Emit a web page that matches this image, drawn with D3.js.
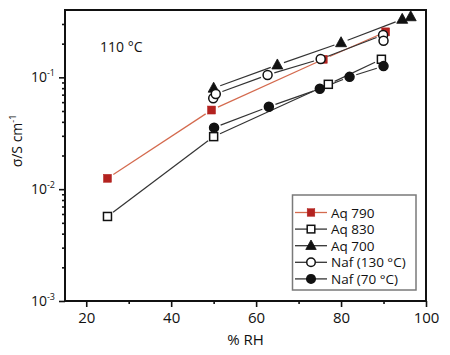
<!DOCTYPE html>
<html><head><meta charset="utf-8">
<script src="https://cdn.jsdelivr.net/npm/d3@7"></script>
<style>body{margin:0;background:#fff}svg{display:block}text{font-family:"Open Sans",sans-serif;fill:#111}</style>
</head><body><svg id="c" width="450" height="355"></svg>
<script>
const seriesNames = ["Aq 790","Aq 830","Aq 700","Naf (130 °C)","Naf (70 °C)"];
const aq790X = [25, 49.5, 75.8, 90.5];
const aq790Y = [0.0125, 0.051, 0.145, 0.255];
const aq830X = [25, 50, 77, 89.5];
const aq830Y = [0.0057, 0.0295, 0.0866, 0.145];
const aq700X = [50, 65, 80, 94.4, 96.4];
const aq700Y = [0.08, 0.129, 0.204, 0.33, 0.348];
const naf130X = [49.9, 50.5, 62.7, 75.2, 89.9, 90];
const naf130Y = [0.065, 0.071, 0.105, 0.146, 0.239, 0.212];
const naf70X = [50.1, 63, 75, 82, 90];
const naf70Y = [0.0355, 0.0546, 0.079, 0.101, 0.126];
const xTicks = [20, 40, 60, 80, 100];
const xMinor = [30, 50, 70, 90];
const yTickExp = ["-3", "-2", "-1"];
const annotation = "110 °C";
const xTitle = "% RH";

const svg = d3.select("#c");
const x = d3.scaleLinear([15, 100], [65, 426]);
const y = d3.scaleLog([0.001, 0.4], [301, 10]);

const styles = [
  {shape:"square", fill:"#b3221f", stroke:"#b3221f", line:"#d46a4e"},
  {shape:"square", fill:"#fff", stroke:"#111", line:"#333"},
  {shape:"triangle", fill:"#111", stroke:"#111", line:"#333"},
  {shape:"circle", fill:"#fff", stroke:"#111", line:"#333"},
  {shape:"circle", fill:"#111", stroke:"#111", line:"#333"}
];
const data = [[aq790X,aq790Y],[aq830X,aq830Y],[aq700X,aq700Y],[naf130X,naf130Y],[naf70X,naf70Y]];

// frame
svg.append("rect").attr("x",65).attr("y",10).attr("width",361).attr("height",291)
  .attr("fill","none").attr("stroke","#111").attr("stroke-width",2);

// x axis
const gx = svg.append("g").attr("transform","translate(0,301)");
gx.call(d3.axisBottom(x).tickValues(xTicks).tickSize(6).tickFormat(d3.format("d")));
gx.append("g").call(d3.axisBottom(x).tickValues(xMinor).tickSize(3).tickFormat(""));
gx.selectAll(".domain").remove();
gx.selectAll("line").attr("stroke","#111").attr("stroke-width",1.6);
gx.selectAll("text").attr("font-size",15).attr("y",8).attr("dy","0.95em").attr("fill","#111");

// y axis
const gy = svg.append("g").attr("transform","translate(65,0)");
const majors = yTickExp.map(e => Math.pow(10, +e));
const minors = [];
[0.001,0.01,0.1].forEach(b => { for (let k=2;k<=9;k++){ const v=b*k; if (v<0.4) minors.push(v);} });
gy.call(d3.axisLeft(y).tickValues(majors).tickSize(6).tickFormat(""));
gy.append("g").call(d3.axisLeft(y).tickValues(minors).tickSize(3).tickFormat(""));
gy.selectAll(".domain").remove();
gy.selectAll("line").attr("stroke","#111").attr("stroke-width",1.6);
yTickExp.forEach((e,i) => {
  const t = svg.append("text").attr("x",55).attr("y",y(majors[i])+5).attr("text-anchor","end").attr("font-size",14);
  t.append("tspan").text("10");
  t.append("tspan").attr("font-size",9).attr("dy",-6).text(e);
});

// axis titles
svg.append("text").attr("x",x(57.5)).attr("y",345).attr("text-anchor","middle").attr("font-size",15).text(xTitle);
const yl = svg.append("text").attr("transform","translate(22,141) rotate(-90)").attr("text-anchor","middle").attr("font-size",14);
yl.append("tspan").text("σ/S cm");
yl.append("tspan").attr("font-size",9).attr("dy",-6).text("-1");

svg.append("text").attr("x",100).attr("y",52).attr("font-size",14).text(annotation);

function drawMarker(g, st, cx, cy, scale=1) {
  if (st.shape==="square") {
    const s = 8*scale;
    g.append("rect").attr("x",cx-s/2).attr("y",cy-s/2).attr("width",s).attr("height",s)
      .attr("fill",st.fill).attr("stroke",st.stroke).attr("stroke-width",st.fill==="#fff"?1.5:0.5);
  } else if (st.shape==="circle") {
    g.append("circle").attr("cx",cx).attr("cy",cy).attr("r",4.5*scale)
      .attr("fill",st.fill).attr("stroke",st.stroke).attr("stroke-width",1.5);
  } else {
    const h = 10*scale, w = 11*scale;
    g.append("path").attr("d",`M${cx},${cy-h*0.6}L${cx+w/2},${cy+h*0.4}L${cx-w/2},${cy+h*0.4}Z`)
      .attr("fill",st.fill).attr("stroke",st.stroke).attr("stroke-width",0.8);
  }
}

// series lines with gaps at markers
const plot = svg.append("g");
data.forEach((d,si) => {
  const st = styles[si];
  const pts = d[0].map((xv,i) => [x(xv), y(d[1][i])]);
  const gap = 7;
  for (let i=0;i<pts.length-1;i++){
    const [x1,y1]=pts[i],[x2,y2]=pts[i+1];
    const L = Math.hypot(x2-x1,y2-y1);
    if (L <= 2*gap) continue;
    const ux=(x2-x1)/L, uy=(y2-y1)/L;
    plot.append("line").attr("x1",x1+ux*gap).attr("y1",y1+uy*gap).attr("x2",x2-ux*gap).attr("y2",y2-uy*gap)
      .attr("stroke",st.line).attr("stroke-width",1.2);
  }
});
data.forEach((d,si) => {
  const g = plot.append("g");
  d[0].forEach((xv,i) => drawMarker(g, styles[si], x(xv), y(d[1][i])));
});

// legend
const lg = svg.append("g");
lg.append("rect").attr("x",292.5).attr("y",195).attr("width",123.5).attr("height",95)
  .attr("fill","#fff").attr("stroke","#7a7a7a").attr("stroke-width",1.5);
seriesNames.forEach((n,i) => {
  const cy = 212.5 + i*16.6;
  lg.append("line").attr("x1",295).attr("x2",327).attr("y1",cy).attr("y2",cy).attr("stroke",styles[i].line).attr("stroke-width",1.3);
  drawMarker(lg, styles[i], 311, cy, 0.95);
  lg.append("text").attr("x",331).attr("y",cy+5).attr("font-size",13.5).text(n);
});
</script></body></html>
